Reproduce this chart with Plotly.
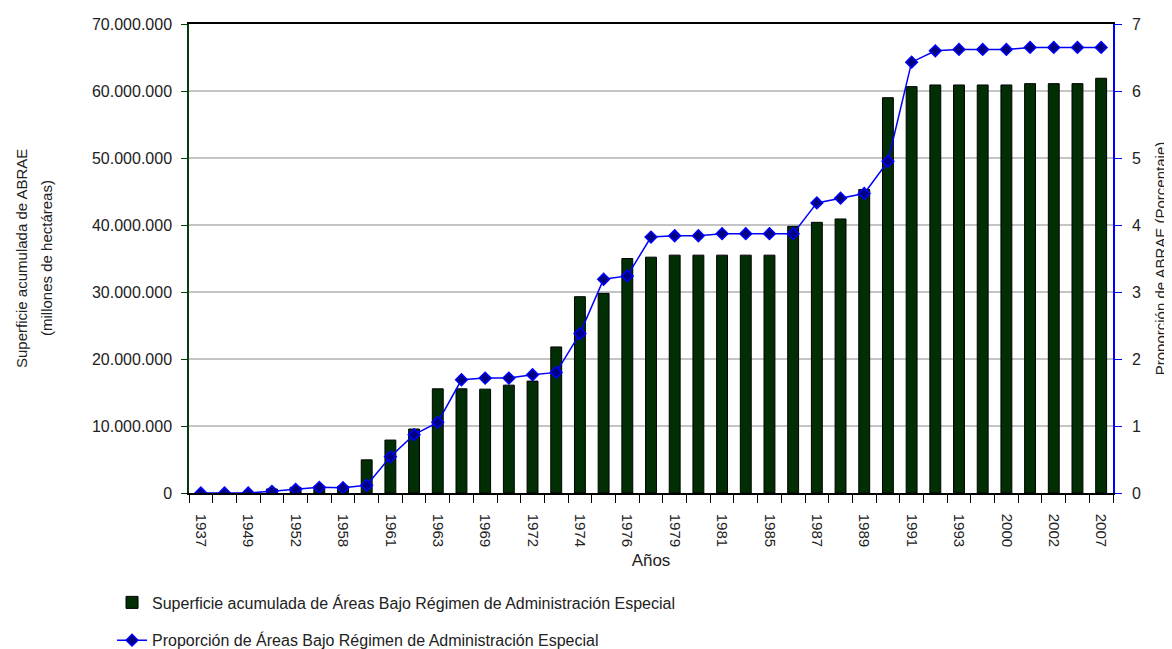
import plotly.graph_objects as go

years = [1937, 1941, 1949, 1950, 1952, 1955, 1958, 1960, 1961, 1962, 1963, 1966, 1969,
         1971, 1972, 1973, 1974, 1975, 1976, 1978, 1979, 1980, 1981, 1983, 1985, 1986,
         1987, 1988, 1989, 1990, 1991, 1992, 1993, 1995, 2000, 2001, 2002, 2005, 2007]

superficie = [50000, 60000, 80000, 600000, 850000, 1000000, 1000000, 4950000, 7900000,
              9550000, 15550000, 15550000, 15500000, 16100000, 16700000, 21800000,
              29300000, 29800000, 35000000, 35200000, 35500000, 35500000, 35500000,
              35500000, 35500000, 39800000, 40400000, 40900000, 45300000, 59000000,
              60650000, 60900000, 60900000, 60900000, 60900000, 61100000, 61100000,
              61100000, 61900000]

proporcion = [0.0, 0.0, 0.0, 0.025, 0.055, 0.085, 0.08, 0.115, 0.54, 0.87, 1.055, 1.69,
              1.715, 1.715, 1.765, 1.80, 2.38, 3.19, 3.24, 3.82, 3.84, 3.84, 3.87, 3.87,
              3.87, 3.87, 4.33, 4.40, 4.47, 4.95, 6.43, 6.60, 6.62, 6.62, 6.62, 6.65,
              6.65, 6.65, 6.65]

cats = [str(y) for y in years]
tick_text = [c if i % 2 == 0 else "" for i, c in enumerate(cats)]

FONT = "Liberation Sans, Arial, sans-serif"
TXT = "#222222"
GREEN_AX = "#0a3a0a"
BLUE = "#0000FF"

fig = go.Figure()
fig.add_bar(
    x=cats, y=superficie,
    name="Superficie acumulada de Áreas Bajo Régimen de Administración Especial",
    marker=dict(color="#022e04", line=dict(color="black", width=1)),
    width=0.46, legendgroup="a",
)
fig.add_scatter(
    x=cats, y=proporcion, yaxis="y2", mode="lines+markers",
    name="Proporción de Áreas Bajo Régimen de Administración Especial",
    line=dict(color=BLUE, width=1.5),
    marker=dict(symbol="diamond", size=9, color="#000080",
                line=dict(color=BLUE, width=1.5)),
    legendgroup="b",
)

fig.update_layout(
    width=1164, height=641,
    margin=dict(l=181, r=59, t=16, b=156, autoexpand=False),
    paper_bgcolor="white", plot_bgcolor="white",
    separators=",.",
    font=dict(family=FONT, size=15, color=TXT),
    showlegend=True,
    legend=dict(
        x=-0.0833, y=-0.1972,
        xanchor="left", yanchor="top", orientation="v",
        traceorder="grouped", tracegroupgap=14,
        font=dict(family=FONT, size=16, color=TXT),
        bgcolor="rgba(0,0,0,0)",
    ),
    xaxis=dict(
        type="category", tickmode="array", tickvals=cats, ticktext=tick_text,
        range=[-0.5, len(cats) - 0.5],
        tickson="boundaries", ticks="outside", ticklen=8, tickcolor="black",
        ticklabelstandoff=16,
        showline=True, linecolor="black", linewidth=1.5, mirror=True,
        showgrid=False, tickangle=90, tickfont=dict(size=15, color=TXT),
        title=dict(text="Años", font=dict(size=17, color=TXT), standoff=8),
        automargin=False,
    ),
    yaxis=dict(
        range=[0, 70000000], dtick=10000000, tickformat=",d",
        showgrid=True, gridcolor="#c4c4c4", gridwidth=1.5, zeroline=False,
        showline=True, linecolor=GREEN_AX, linewidth=1.5,
        ticks="outside", tickcolor=GREEN_AX, ticklen=6, ticklabelstandoff=6,
        tickfont=dict(size=16, color=TXT),
        automargin=False,
    ),
    yaxis2=dict(
        overlaying="y", side="right", range=[0, 7], dtick=1,
        showgrid=False, zeroline=False,
        showline=True, linecolor=BLUE, linewidth=1.5,
        ticks="outside", tickcolor=BLUE, ticklen=7, ticklabelstandoff=7,
        tickfont=dict(size=16, color=TXT),
        title=dict(text="Proporción de ABRAE (Porcentaje)",
                   font=dict(size=15, color=TXT), standoff=16),
        automargin=False,
    ),
    yaxis3=dict(
        overlaying="y", side="left", anchor="x", range=[0, 70000000], dtick=10000000,
        showgrid=False, zeroline=False, showline=False, showticklabels=False,
        ticks="inside", tickcolor=GREEN_AX, ticklen=7, automargin=False,
    ),
    yaxis4=dict(
        overlaying="y", side="right", anchor="x", range=[0, 7], dtick=1,
        showgrid=False, zeroline=False, showline=False, showticklabels=False,
        ticks="inside", tickcolor=BLUE, ticklen=7, automargin=False,
    ),
    annotations=[
        dict(text="Superficie acumulada de ABRAE", xref="paper", yref="paper",
             x=0, y=0.5, xanchor="center", yanchor="middle", xshift=-167.5,
             textangle=-90, showarrow=False, font=dict(size=15, color=TXT)),
        dict(text="(millones de hectáreas)", xref="paper", yref="paper",
             x=0, y=0.5, xanchor="center", yanchor="middle", xshift=-142.5,
             textangle=-90, showarrow=False, font=dict(size=15, color=TXT)),
    ],
)

fig.write_html("out.html")
